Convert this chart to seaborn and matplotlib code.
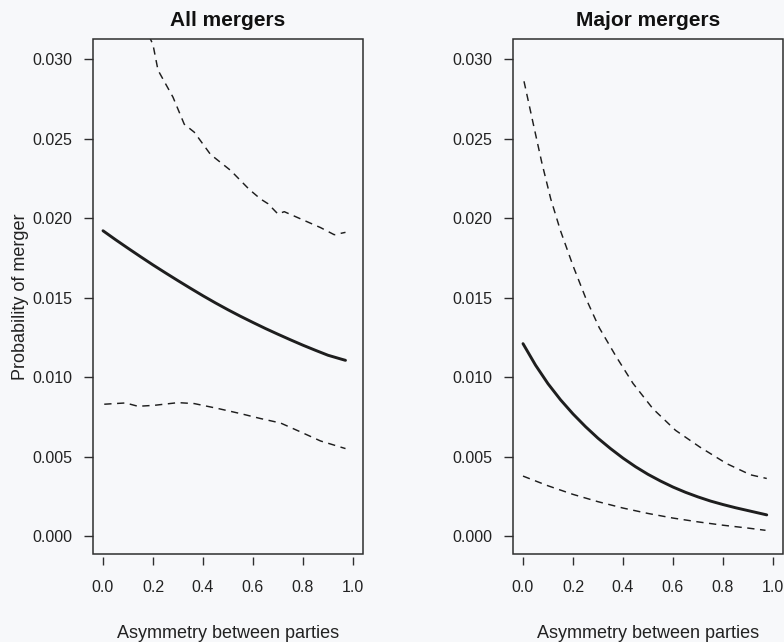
import numpy as np
import pandas as pd
import matplotlib
matplotlib.use("Agg")
import matplotlib.pyplot as plt
import seaborn as sns
from matplotlib.ticker import FormatStrFormatter
from matplotlib.patches import Rectangle

# ---------------- data ----------------
panel_titles = ["All mergers", "Major mergers"]
x_label = "Asymmetry between parties"
y_label = "Probability of merger"
x_ticks = [0.0, 0.2, 0.4, 0.6, 0.8, 1.0]
y_ticks = [0.000, 0.005, 0.010, 0.015, 0.020, 0.025, 0.030]

# All mergers
all_est_x = [0.0, 0.05, 0.1, 0.15, 0.2, 0.25, 0.3, 0.35, 0.4, 0.45, 0.5,
             0.55, 0.6, 0.65, 0.7, 0.75, 0.8, 0.85, 0.9, 0.95, 0.97]
all_est_y = [0.01920, 0.01864, 0.01810, 0.01757, 0.01705, 0.01655, 0.01606,
             0.01558, 0.01511, 0.01466, 0.01423, 0.01382, 0.01343, 0.01305,
             0.01269, 0.01234, 0.01200, 0.01168, 0.01137, 0.01114, 0.01105]
all_hi_x = [0.0, 0.1, 0.18, 0.20, 0.22, 0.28, 0.325, 0.365, 0.43, 0.51,
            0.585, 0.63, 0.66, 0.70, 0.725, 0.79, 0.87, 0.925, 0.97]
all_hi_y = [0.0400, 0.0355, 0.0316, 0.0309, 0.0293, 0.0276, 0.0259, 0.0254,
            0.0240, 0.0230, 0.0218, 0.0212, 0.0209, 0.02025, 0.0204, 0.01995,
            0.0194, 0.01895, 0.0191]
all_lo_x = [0.005, 0.09, 0.14, 0.205, 0.30, 0.365, 0.46, 0.55, 0.63, 0.71,
            0.79, 0.87, 0.97]
all_lo_y = [0.00829, 0.00837, 0.00816, 0.00822, 0.00839, 0.00833, 0.00802,
            0.00770, 0.00739, 0.00711, 0.00655, 0.00598, 0.00550]

# Major mergers
maj_est_x = [0.0, 0.05, 0.1, 0.15, 0.2, 0.25, 0.3, 0.35, 0.4, 0.45, 0.5,
             0.55, 0.6, 0.65, 0.7, 0.75, 0.8, 0.85, 0.9, 0.975]
maj_est_y = [0.01210, 0.01075, 0.00958, 0.00857, 0.00768, 0.00688, 0.00615,
             0.00550, 0.00490, 0.00436, 0.00388, 0.00346, 0.00308, 0.00275,
             0.00246, 0.00220, 0.00198, 0.00178, 0.00160, 0.00133]
maj_hi_x = [0.004, 0.04, 0.075, 0.111, 0.15, 0.2, 0.25, 0.305, 0.372,
            0.44, 0.52, 0.61, 0.707, 0.814, 0.91, 0.975]
maj_hi_y = [0.0286, 0.0260, 0.0235, 0.0212, 0.0192, 0.0170, 0.0150, 0.0131,
            0.0113, 0.0096, 0.0080, 0.00665, 0.0056, 0.00456, 0.00385,
            0.00362]
maj_lo_x = [0.0, 0.1, 0.2, 0.3, 0.4, 0.5, 0.6, 0.7, 0.8, 0.9, 0.97]
maj_lo_y = [0.00377, 0.00316, 0.00262, 0.00216, 0.00176, 0.00142, 0.00113,
            0.00089, 0.00068, 0.00050, 0.00036]

panels = [
    (all_est_x, all_est_y, all_hi_x, all_hi_y, all_lo_x, all_lo_y),
    (maj_est_x, maj_est_y, maj_hi_x, maj_hi_y, maj_lo_x, maj_lo_y),
]

# ---------------- style ----------------
sns.set_theme(style="white")
plt.rcParams["font.family"] = ["Liberation Sans", "DejaVu Sans"]
BG = "#f7f8fa"
INK = "#1e1e1e"
FRAME = "#2e2e2e"

W, H = 784, 642
fig = plt.figure(figsize=(W / 100, H / 100), dpi=100, facecolor=BG)

ax_lefts = [93, 513]
ax_w = 270
ax_top, ax_bot = 39, 554

for i, (ex, ey, hx, hy, lx, ly) in enumerate(panels):
    ax = fig.add_axes([ax_lefts[i] / W, (H - ax_bot) / H, ax_w / W,
                       (ax_bot - ax_top) / H])
    ax.set_facecolor(BG)

    df_e = pd.DataFrame({"x": ex, "y": ey})
    df_h = pd.DataFrame({"x": hx, "y": hy})
    df_l = pd.DataFrame({"x": lx, "y": ly})
    sns.lineplot(data=df_e, x="x", y="y", ax=ax, color=INK, lw=2.1,
                 estimator=None, sort=True)
    for d in (df_h, df_l):
        sns.lineplot(data=d, x="x", y="y", ax=ax, color=INK, lw=1.05,
                     estimator=None, sort=True, dashes=False,
                     linestyle=(0, (5, 3.8)))

    ax.set_xlim(-0.04, 1.04)
    ax.set_ylim(-0.00113, 0.03126)
    ax.set_xticks(x_ticks)
    ax.set_yticks(y_ticks)
    ax.xaxis.set_major_formatter(FormatStrFormatter("%.1f"))
    ax.yaxis.set_major_formatter(FormatStrFormatter("%.3f"))

    # frame box
    for s in ax.spines.values():
        s.set_visible(False)
    ax.add_patch(Rectangle((0, 0), 1, 1, transform=ax.transAxes, fill=False,
                           ec=FRAME, lw=1.1, clip_on=False, zorder=5))
    ax.spines["bottom"].set_visible(True)
    ax.spines["bottom"].set_color("none")
    ax.spines["bottom"].set_position(("outward", 2.5))

    ax.tick_params(axis="x", direction="out", length=6, width=1.0,
                   color=FRAME, labelsize=11.5, labelcolor="#222222", pad=10,
                   bottom=True)
    ax.tick_params(axis="y", direction="out", length=6.5, width=1.0,
                   color=FRAME, labelsize=11.5, labelcolor="#222222", pad=8.5,
                   left=True)

    ax.set_title(panel_titles[i], fontsize=15, fontweight="bold",
                 color="#111111", pad=9.5)
    ax.set_xlabel(x_label, fontsize=13, color="#222222", labelpad=22)
    if i == 0:
        ax.set_ylabel(y_label, fontsize=13, color="#222222")
        ax.yaxis.set_label_coords(-0.237, 0.5)
    else:
        ax.set_ylabel("")

fig.savefig("out.png", dpi=100, facecolor=BG)
